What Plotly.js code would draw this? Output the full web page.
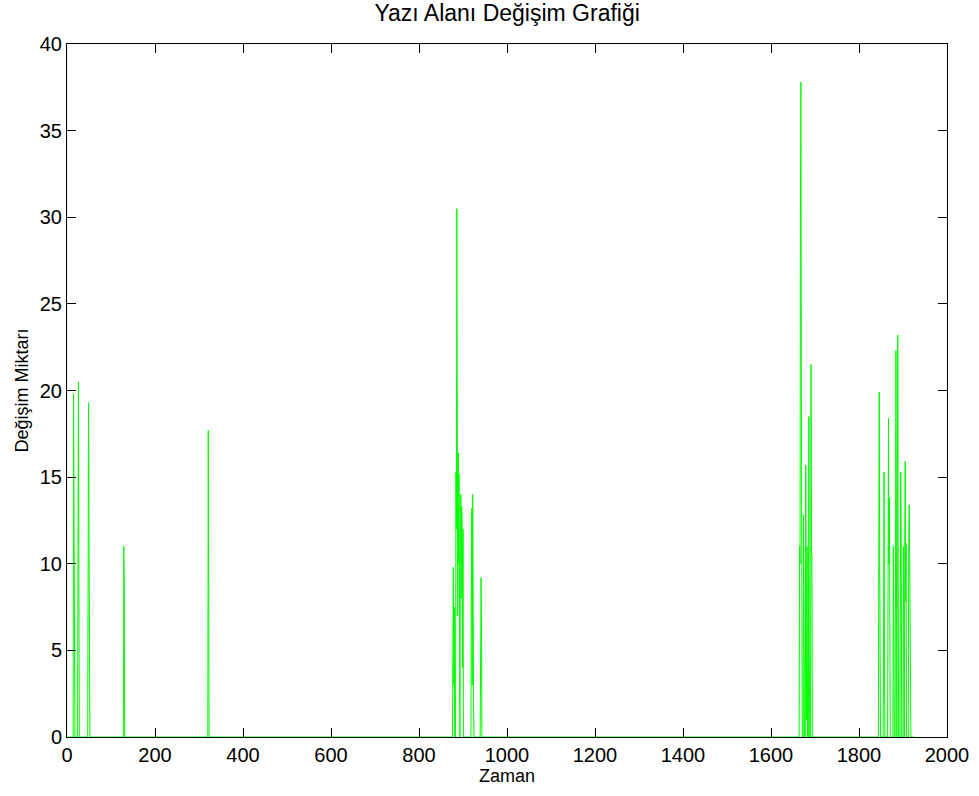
<!DOCTYPE html>
<html>
<head>
<meta charset="utf-8">
<script src="https://cdn.plot.ly/plotly-3.0.1.min.js"></script>
<style>html,body{margin:0;padding:0;background:#fff;}#chart{width:979px;height:796px;}</style>
</head>
<body>
<div id="chart"></div>
<script>
// Time samples (Zaman) and change amounts (Değişim Miktarı) per active region
const zamanA = [1, 14, 15, 16, 17, 18, 24, 25, 26, 27, 28];
const degisimA = [0, 0, 19.8, 9.8, 10, 0, 0, 13.3, 20.5, 10, 0];
const zamanB = [47, 48, 49, 50, 51, 52, 128, 129, 130, 131, 320, 321, 322, 323];
const degisimB = [0, 16.3, 19.3, 11.8, 2, 0, 0, 11, 8.9, 0, 0, 17.7, 8.8, 0];
const zamanC = [876, 877, 878, 879, 880, 881, 883, 884, 885, 886, 887, 888, 889, 890, 891, 892, 893, 894, 895, 896, 897, 898, 899, 900, 901, 918, 919, 920, 921, 922, 923, 924, 925, 939, 940, 941, 942, 943];
const degisimC = [0, 8.6, 9.8, 3, 7.5, 0, 0, 15.3, 12, 30.5, 15, 7, 16.4, 10, 15.2, 6, 0, 11, 14, 8, 13.3, 12, 4, 12, 0, 0, 8.5, 13.2, 3, 14, 8.5, 2, 0, 0, 4.5, 9.2, 6.5, 0];
const zamanD = [1664, 1665, 1666, 1667, 1668, 1669, 1670, 1671, 1673, 1674, 1675, 1676, 1678, 1679, 1680, 1681, 1682, 1683, 1685, 1686, 1687, 1688, 1690, 1691, 1692, 1693, 1694];
const degisimD = [0, 11, 10, 31, 37.8, 20.2, 10, 0, 0, 12.8, 6.3, 0, 0, 15.7, 7.8, 1, 11, 0, 0, 18.5, 5, 0, 0, 21.5, 10.7, 10.4, 0];
const zamanE = [1844, 1845, 1846, 1847, 1848, 1849, 1855, 1856, 1857, 1858, 1859, 1865, 1866, 1867, 1868, 1869, 1870, 1871, 1877, 1878, 1879, 1880, 1882, 1883, 1884, 1885, 1886, 1887, 1888, 1889, 1890, 1893, 1894, 1895, 1896, 1897, 1900, 1901, 1902, 1903, 1904, 1905, 1906, 1907, 1908, 1912, 1913, 1914, 1915, 1916, 1917, 1918, 1925];
const degisimE = [0, 10.3, 19.9, 10.2, 5, 0, 0, 7.5, 15.3, 3, 0, 0, 12, 18.4, 10, 13.8, 6.8, 0, 0, 11, 6.8, 0, 0, 10, 22.3, 11, 0, 11.3, 23.2, 11, 0, 0, 8, 15.3, 11, 0, 0, 11, 7.5, 0, 11, 15.9, 7.8, 11.2, 0, 0, 11, 13.4, 10.9, 6.6, 3, 0, 0];

const xTicks = [0, 200, 400, 600, 800, 1000, 1200, 1400, 1600, 1800, 2000];
const yTicks = [0, 5, 10, 15, 20, 25, 30, 35, 40];

const zaman = [].concat(zamanA, zamanB, zamanC, zamanD, zamanE);
const degisim = [].concat(degisimA, degisimB, degisimC, degisimD, degisimE);

const FONT = 'Liberation Sans, Arial, sans-serif';
const axisCommon = {
  showline: true, linecolor: '#000', linewidth: 1, mirror: 'ticks',
  ticks: 'inside', ticklen: 9, tickcolor: '#000', tickwidth: 1,
  showgrid: false, zeroline: false, automargin: false,
  tickfont: {family: FONT, size: 20, color: '#000'}
};

Plotly.newPlot('chart', [{
  x: zaman, y: degisim, type: 'scatter', mode: 'lines',
  line: {color: '#00ff00', width: 1}, hoverinfo: 'skip'
}], {
  width: 979, height: 796,
  margin: {l: 67, r: 32, t: 44, b: 59},
  paper_bgcolor: '#fff', plot_bgcolor: '#fff',
  showlegend: false,
  title: {text: 'Yazı Alanı Değişim Grafiği', font: {family: FONT, size: 23, color: '#000'}, x: 0.518, xanchor: 'center', y: 0.984, yanchor: 'middle'},
  xaxis: Object.assign({}, axisCommon, {
    range: [0, 2000], tickvals: xTicks, ticktext: xTicks.map(String),
    title: {text: 'Zaman', font: {family: FONT, size: 18, color: '#000'}, standoff: 2}
  }),
  yaxis: Object.assign({}, axisCommon, {
    range: [0, 40], tickvals: yTicks, ticktext: yTicks.map(String),
    title: {text: 'Değişim Miktarı', font: {family: FONT, size: 18, color: '#000'}, standoff: 6}
  })
}, {staticPlot: true});
</script>
</body>
</html>
